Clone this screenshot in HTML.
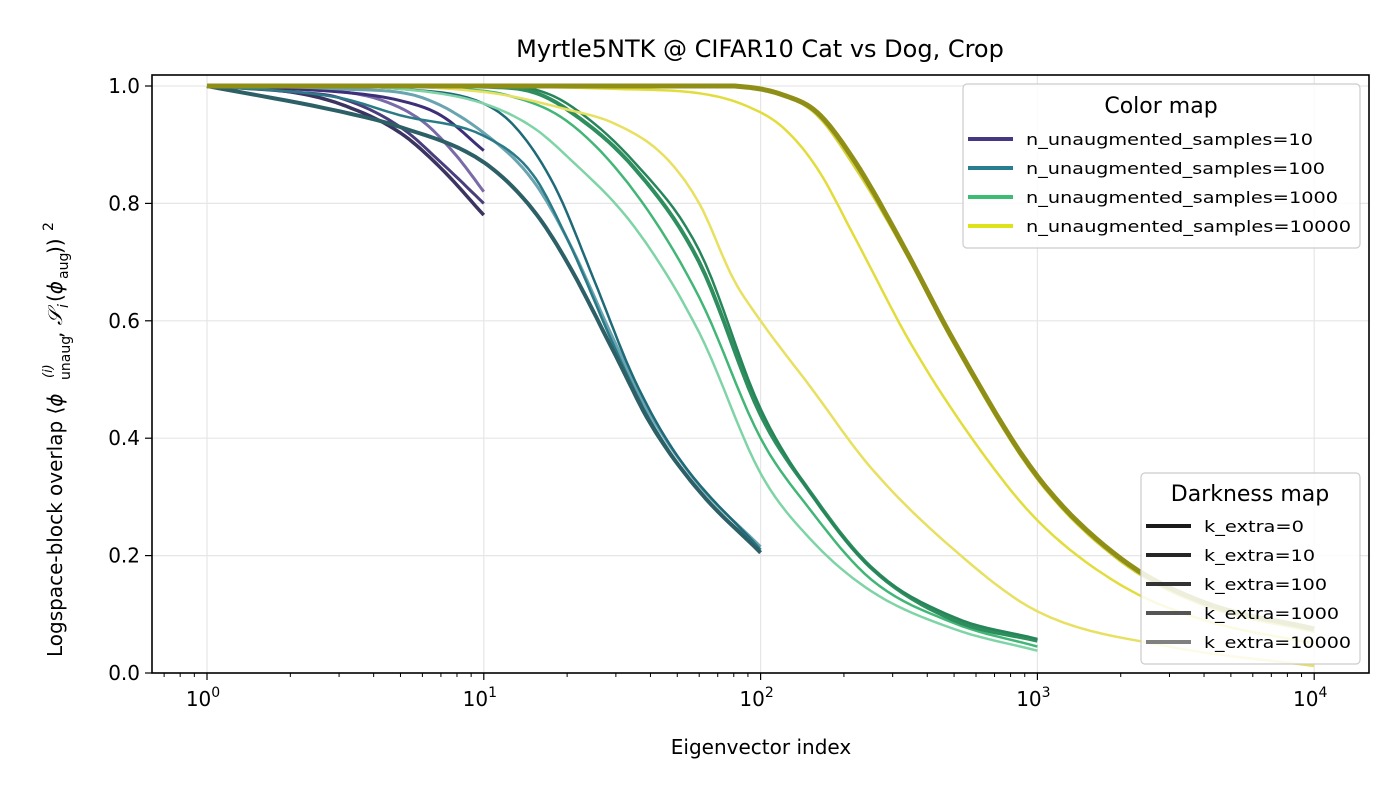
<!DOCTYPE html>
<html><head><meta charset="utf-8"><style>
body{margin:0;background:#fff}
svg{font-family:"DejaVu Sans","Liberation Sans",sans-serif}
</style></head><body>
<svg id="s" width="1400" height="800" xmlns="http://www.w3.org/2000/svg">
<rect width="1400" height="800" fill="#fff"/>
<g id="grid"></g>
<g id="curves" fill="none" stroke-linejoin="round" stroke-linecap="butt"></g>
<rect x="152" y="75" width="1217" height="598" fill="none" stroke="#000" stroke-width="1.6"/>
<g id="ticks"></g>
<text x="760" y="57" font-size="24" text-anchor="middle">Myrtle5NTK @ CIFAR10 Cat vs Dog, Crop</text>
<text x="761" y="754" font-size="20" text-anchor="middle">Eigenvector index</text>
<g transform="translate(62,374) rotate(-90)">
<text x="-283" y="0" font-size="20">Logspace-block overlap ⟨<tspan font-style="italic">ϕ</tspan></text>
<text x="-6" y="8" font-size="14">unaug</text>
<text x="-4" y="-10" font-size="13" font-style="italic">(i)</text>
<text x="36" y="0" font-size="20">, <tspan font-style="italic">𝒮</tspan></text>
<text x="66" y="6" font-size="14" font-style="italic">i</text>
<text x="72" y="0" font-size="20">(<tspan font-style="italic">ϕ</tspan></text>
<text x="95" y="6" font-size="14">aug</text>
<text x="120" y="0" font-size="20">))</text>
<text x="143" y="-9" font-size="14">2</text>
</g>
<g>
<rect x="963" y="84" width="397" height="164" rx="4" fill="#fff" fill-opacity="0.85" stroke="#ccc" stroke-width="1.2"/>
<text x="1161" y="113" font-size="22" text-anchor="middle">Color map</text>
<g font-size="16">
<line x1="968" x2="1013" y1="139" y2="139" stroke="#453781" stroke-width="4"/><text x="1026" y="145" textLength="287" lengthAdjust="spacingAndGlyphs">n_unaugmented_samples=10</text>
<line x1="968" x2="1013" y1="168" y2="168" stroke="#287d8e" stroke-width="4"/><text x="1026" y="174" textLength="299" lengthAdjust="spacingAndGlyphs">n_unaugmented_samples=100</text>
<line x1="968" x2="1013" y1="197" y2="197" stroke="#3dbc74" stroke-width="4"/><text x="1026" y="203" textLength="312" lengthAdjust="spacingAndGlyphs">n_unaugmented_samples=1000</text>
<line x1="968" x2="1013" y1="226" y2="226" stroke="#dde318" stroke-width="4"/><text x="1026" y="232" textLength="325" lengthAdjust="spacingAndGlyphs">n_unaugmented_samples=10000</text>
</g>
<rect x="1141" y="473" width="219" height="191" rx="4" fill="#fff" fill-opacity="0.85" stroke="#ccc" stroke-width="1.2"/>
<text x="1250" y="501" font-size="22" text-anchor="middle">Darkness map</text>
<g font-size="16">
<line x1="1146" x2="1191" y1="526" y2="526" stroke="#1a1a1a" stroke-width="4"/><text x="1204" y="532" textLength="100" lengthAdjust="spacingAndGlyphs">k_extra=0</text>
<line x1="1146" x2="1191" y1="555" y2="555" stroke="#262626" stroke-width="4"/><text x="1204" y="561" textLength="111" lengthAdjust="spacingAndGlyphs">k_extra=10</text>
<line x1="1146" x2="1191" y1="584" y2="584" stroke="#333" stroke-width="4"/><text x="1204" y="590" textLength="123" lengthAdjust="spacingAndGlyphs">k_extra=100</text>
<line x1="1146" x2="1191" y1="613" y2="613" stroke="#555" stroke-width="4"/><text x="1204" y="619" textLength="135" lengthAdjust="spacingAndGlyphs">k_extra=1000</text>
<line x1="1146" x2="1191" y1="642" y2="642" stroke="#808080" stroke-width="4"/><text x="1204" y="648" textLength="147" lengthAdjust="spacingAndGlyphs">k_extra=10000</text>
</g>
</g>
</svg>
<script>
const NS="http://www.w3.org/2000/svg";
const X=n=>207+276.8*Math.log10(n), Y=v=>673-587*v;
function el(p,tag,a,txt){const e=document.createElementNS(NS,tag);for(const k in a)e.setAttribute(k,a[k]);if(txt!==undefined)e.textContent=txt;document.getElementById(p).appendChild(e);return e;}
for(let d=0;d<=4;d++){const x=X(10**d);
 el("grid","line",{x1:x,x2:x,y1:75,y2:673,stroke:"#e6e6e6","stroke-width":1.2});
 el("ticks","line",{x1:x,x2:x,y1:673,y2:680,stroke:"#000","stroke-width":1.2});
 const t=el("ticks","text",{x:x-4,y:706,"font-size":20,"text-anchor":"middle"},"10");
 const s=document.createElementNS(NS,"tspan");s.setAttribute("dy","-9");s.setAttribute("font-size","14");s.textContent=d;t.appendChild(s);}
for(let d=-1;d<=4;d++)for(let m=2;m<=9;m++){const x=X(m*10**d);if(x<152||x>1369)continue;
 el("ticks","line",{x1:x,x2:x,y1:673,y2:677,stroke:"#000","stroke-width":1});}
for(let i=0;i<=5;i++){const v=i*0.2,y=Y(v);
 if(i>0)el("grid","line",{x1:152,x2:1369,y1:y,y2:y,stroke:"#e6e6e6","stroke-width":1.2});
 el("ticks","line",{x1:145,x2:152,y1:y,y2:y,stroke:"#000","stroke-width":1.2});
 el("ticks","text",{x:140,y:y+7,"font-size":20,"text-anchor":"end"},v.toFixed(1));}
function curve(pts,col,w,op){
 let d="";
 const xs=pts.map(p=>Math.log10(p[0])),ys=pts.map(p=>p[1]);
 const n=xs.length,m=[];
 for(let i=0;i<n;i++){
  if(i==0)m.push((ys[1]-ys[0])/(xs[1]-xs[0]));
  else if(i==n-1)m.push((ys[n-1]-ys[n-2])/(xs[n-1]-xs[n-2]));
  else {const a=(ys[i]-ys[i-1])/(xs[i]-xs[i-1]),b=(ys[i+1]-ys[i])/(xs[i+1]-xs[i]);m.push(a*b<=0?0:(a+b)/2);}
 }
 for(let i=0;i<n-1;i++){const h=xs[i+1]-xs[i];
  for(let k=0;k<=10;k++){const t=k/10,t2=t*t,t3=t2*t;
   let v=(2*t3-3*t2+1)*ys[i]+(t3-2*t2+t)*h*m[i]+(-2*t3+3*t2)*ys[i+1]+(t3-t2)*h*m[i+1];
   v=Math.min(v,1);
   const lx=xs[i]+t*h;
   d+=(d?"L":"M")+(207+276.8*lx).toFixed(1)+","+Y(v).toFixed(1);}}
 el("curves","path",{d,stroke:col,"stroke-width":w,"stroke-opacity":op||1});
}
curve([[1,1],[2,0.99],[3,0.97],[5,0.92],[7,0.86],[10,0.78]],"#3b3360",3.5);
curve([[1,1],[2,0.99],[3,0.98],[5,0.93],[7,0.87],[10,0.80]],"#4a3d7e",3);
curve([[1,1],[2,0.995],[4,0.98],[6,0.94],[8,0.88],[10,0.82]],"#7a6aa8",3);
curve([[1,1],[3,0.99],[5,0.975],[7,0.95],[10,0.89]],"#3d2f78",3);
curve([[1,1],[3,0.995],[6,0.98],[10,0.92],[15,0.84],[20,0.74],[30,0.56],[40,0.44],[60,0.32],[100,0.215]],"#6aa4b0",3);
curve([[1,1],[5,0.995],[10,0.97],[13,0.93],[18,0.83],[25,0.67],[35,0.50],[50,0.37],[100,0.21]],"#1f6a78",2.5);
curve([[1,1],[3,0.98],[5,0.95],[10,0.915],[15,0.85],[20,0.74],[30,0.55],[40,0.43],[60,0.31],[100,0.21]],"#2a7a88",2.5);
curve([[1,1],[3,0.957],[5,0.93],[10,0.87],[15,0.79],[20,0.70],[30,0.54],[40,0.425],[60,0.31],[100,0.205]],"#2c5f66",4);
curve([[1,1],[5,0.995],[10,0.97],[15,0.93],[20,0.88],[35,0.76],[60,0.58],[100,0.34],[150,0.23],[250,0.14],[500,0.075],[1000,0.038]],"#7fd4a6",2.5);
curve([[1,1],[8,0.995],[12,0.985],[20,0.94],[35,0.82],[60,0.64],[100,0.40],[150,0.28],[250,0.16],[500,0.085],[1000,0.045]],"#41b677",2.5);
curve([[1,1],[10,0.999],[15,0.99],[20,0.96],[35,0.86],[60,0.70],[100,0.44],[150,0.31],[250,0.18],[500,0.09],[1000,0.055]],"#2e8e5e",4);
curve([[1,1],[10,1],[15,0.995],[20,0.97],[35,0.87],[60,0.72],[100,0.45],[150,0.31],[250,0.18],[500,0.095],[1000,0.058]],"#27855a",2.5);
curve([[1,1],[10,0.99],[20,0.96],[30,0.935],[45,0.88],[60,0.80],[80,0.67],[100,0.60],[150,0.49],[250,0.35],[500,0.21],[1000,0.105],[3000,0.045],[10000,0.012]],"#e8e060",2.5);
curve([[1,1],[30,0.995],[65,0.985],[90,0.965],[120,0.93],[160,0.86],[220,0.74],[350,0.56],[600,0.39],[1000,0.26],[2000,0.15],[4000,0.09],[10000,0.05]],"#e2dd3c",2.5);
curve([[1,1],[30,1],[90,0.998],[120,0.985],[160,0.95],[220,0.86],[330,0.72],[500,0.56],[1000,0.33],[2000,0.19],[4000,0.115],[10000,0.07]],"#d6d23a",2.5);
curve([[1,1],[30,1],[90,0.998],[120,0.985],[160,0.955],[220,0.87],[330,0.725],[500,0.565],[1000,0.335],[2000,0.195],[4000,0.12],[10000,0.075]],"#8f8f18",5);
</script>
</body></html>
